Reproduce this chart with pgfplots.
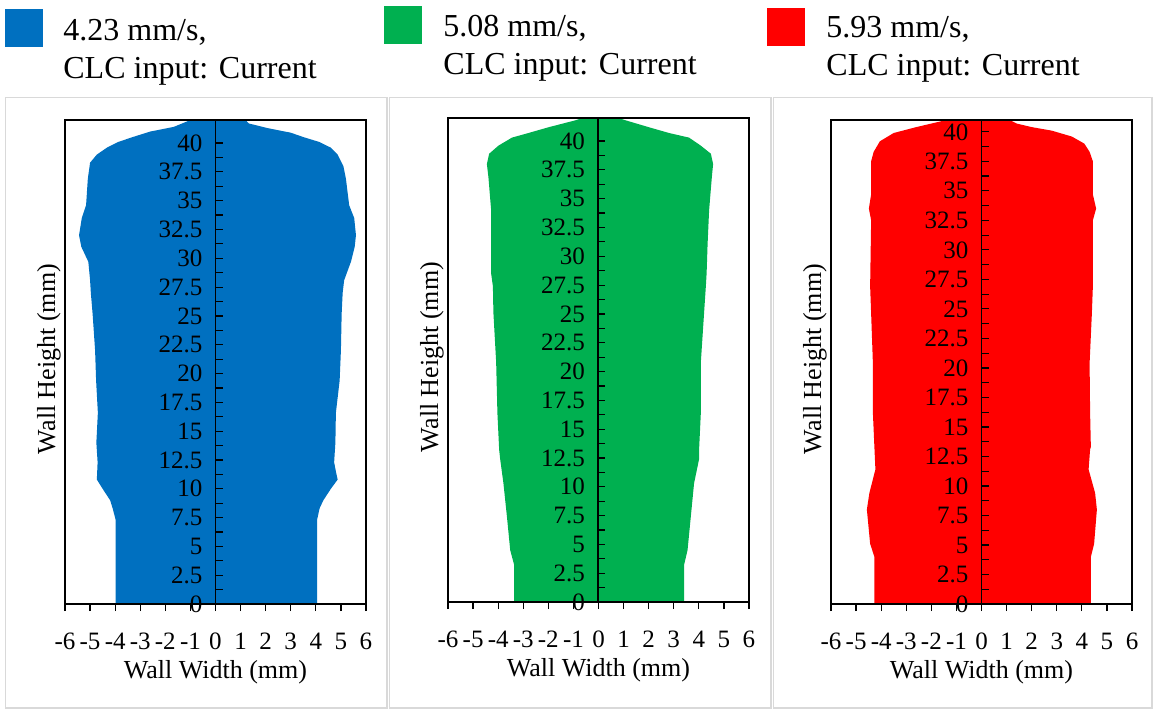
\documentclass[border=0pt]{standalone}
\usepackage{fontspec}
\setmainfont{Liberation Serif}
\usepackage{pgfplots}
\pgfplotsset{compat=1.18}

\definecolor{wallblue}{HTML}{0070C0}
\definecolor{wallgreen}{HTML}{00B050}
\definecolor{wallred}{HTML}{FF0000}
\definecolor{framegray}{HTML}{D9D9D9}

\pgfplotsset{
  % the framed plot area with the bottom x axis and the data
  wallbox/.style={
    scale only axis, width=150.5pt, height=242pt,
    xmin=-6, xmax=6, ymin=0, ymax=42,
    axis line style={black, line width=0.75pt},
    xtick={-6,-5,-4,-3,-2,-1,0,1,2,3,4,5,6},
    xticklabels={-6,-5,-4,-3,-2,-1,0,1,2,3,4,5,6},
    xtick pos=bottom, xtick align=outside,
    ytick=\empty,
    major tick length=3.5pt,
    every tick/.style={black, line width=0.6pt},
    xticklabel style={font=\fontsize{12.5}{14}\selectfont, yshift=-7.5pt},
    every axis x label/.style={at={(rel axis cs:0.5,0)}, yshift=-34pt, anchor=center,
      font=\fontsize{13}{15}\selectfont},
    every axis y label/.style={at={(rel axis cs:0,0.5)}, xshift=-8pt, yshift=1.5pt,
      rotate=90, anchor=center, font=\fontsize{13}{15}\selectfont},
    xlabel={Wall Width (mm)}, ylabel={Wall Height (mm)},
    axis on top,
  },
  % the y axis standing at x = 0
  wallyaxis/.style={
    scale only axis, width=75.25pt, height=242pt,
    xmin=0, xmax=6, ymin=0, ymax=42,
    axis x line=none, axis y line=left,
    axis line style={-, black, line width=0.9pt},
    xtick=\empty,
    ytick={0,2.5,5,7.5,10,12.5,15,17.5,20,22.5,25,27.5,30,32.5,35,37.5,40},
    yticklabels={0,2.5,5,7.5,10,12.5,15,17.5,20,22.5,25,27.5,30,32.5,35,37.5,40},
    minor y tick num=1, ytick align=inside,
    major tick length=3.5pt, minor tick length=3.5pt,
    every tick/.style={black, line width=0.6pt},
    yticklabel style={font=\fontsize{12.5}{14}\selectfont, xshift=-3pt},
  }
}

\begin{document}
\begin{tikzpicture}

% frames and legend, in pixel units of the reference
\begin{scope}[x=0.5pt, y=-0.5pt]
  \path (0,0) rectangle (1156,709);
  \draw[framegray, line width=0.75pt] (5.5,97.5) rectangle (387,708);
  \draw[framegray, line width=0.75pt] (389.5,97.5) rectangle (771,708);
  \draw[framegray, line width=0.75pt] (773.5,97.5) rectangle (1152,708);

  \fill[wallblue] (5,9) rectangle (43,47);
  \node[anchor=base west, inner sep=0, font=\fontsize{16}{19}\selectfont] at (63,40) {4.23 mm/s,};
  \node[anchor=base west, inner sep=0, font=\fontsize{16}{19}\selectfont] at (63,78) {CLC input: Current};

  \fill[wallgreen] (384,6) rectangle (422,44);
  \node[anchor=base west, inner sep=0, font=\fontsize{16}{19}\selectfont] at (443,36) {5.08 mm/s,};
  \node[anchor=base west, inner sep=0, font=\fontsize{16}{19}\selectfont] at (443,74) {CLC input: Current};

  \fill[wallred] (767,8) rectangle (805,46);
  \node[anchor=base west, inner sep=0, font=\fontsize{16}{19}\selectfont] at (826,37) {5.93 mm/s,};
  \node[anchor=base west, inner sep=0, font=\fontsize{16}{19}\selectfont] at (826,75) {CLC input: Current};
\end{scope}

% 4.23 mm/s
\begin{axis}[wallbox, at={(32.5pt,-302pt)}, anchor=south west]
\addplot[fill=wallblue, draw=none] coordinates {
  (4.05,0) (4.05,7.3) (4.15,8.3) (4.3,9.0) (4.6,10.0) (4.87,10.8) (4.8,11.5)
  (4.73,12.3) (4.78,14) (4.8,16.6) (4.95,19.4) (5.0,22) (5.03,25.2) (5.07,27)
  (5.13,28.1) (5.4,29.7) (5.55,31) (5.6,32) (5.53,33.5) (5.33,34.6) (5.2,36.9)
  (5.1,38.0) (4.87,39.0) (4.6,39.6) (4.13,40.1) (3.53,40.5) (3.0,40.9)
  (2.07,41.3) (1.33,41.7) (1.2,42.0) (1.0,42.6)
  (-1.0,42.6) (-1.0,42.0) (-1.33,41.7) (-1.67,41.4) (-2.6,41.0) (-3.33,40.5)
  (-3.87,40.1) (-4.33,39.6) (-4.73,39.0) (-5.0,38.3) (-5.09,36.9) (-5.16,34.6)
  (-5.33,33.5) (-5.44,32) (-5.35,31) (-5.07,29.7) (-5.0,28.1) (-4.97,27)
  (-4.9,25.2) (-4.8,22) (-4.76,19.4) (-4.69,16.6) (-4.75,14) (-4.7,12.3)
  (-4.73,10.8) (-4.5,10) (-4.2,9) (-4.1,8.3) (-3.98,7.3) (-3.98,0)
};
\end{axis}
\begin{axis}[wallyaxis, at={(107.75pt,-302pt)}, anchor=south west]
\end{axis}

% 5.08 mm/s
\begin{axis}[wallbox, at={(224pt,-301pt)}, anchor=south west]
\addplot[fill=wallgreen, draw=none] coordinates {
  (3.41,0) (3.41,3.2) (3.55,4.5) (3.68,7.4) (3.81,10.3) (4.01,12.4) (4.01,13.2)
  (4.08,16.4) (4.08,20.8) (4.21,25.1) (4.28,27.4) (4.31,28.5) (4.35,31.1)
  (4.41,34.0) (4.52,36.9) (4.57,38.0) (4.48,38.9) (4.08,39.6) (3.61,40.3)
  (2.81,40.7) (2.01,41.2) (1.08,41.8) (0.81,42.0) (0.7,42.6)
  (-0.6,42.6) (-0.65,42.0) (-0.92,41.8) (-1.99,41.2) (-2.79,40.7) (-3.45,40.3)
  (-3.99,39.6) (-4.36,38.9) (-4.45,38.0) (-4.39,36.9) (-4.28,34.0) (-4.28,31.1)
  (-4.28,28.5) (-4.21,27.4) (-4.19,25.1) (-4.08,20.8) (-4.03,16.4) (-3.96,13.2)
  (-3.92,12.4) (-3.79,10.3) (-3.65,7.4) (-3.52,4.5) (-3.36,3.2) (-3.36,0)
};
\end{axis}
\begin{axis}[wallyaxis, at={(299pt,-301pt)}, anchor=south west]
\end{axis}

% 5.93 mm/s
\begin{axis}[wallbox, ymax=41, at={(415.5pt,-302pt)}, anchor=south west]
\addplot[fill=wallred, draw=none] coordinates {
  (4.36,0) (4.36,4.0) (4.49,5.1) (4.6,8.0) (4.53,9.4) (4.27,11.4) (4.33,13.1)
  (4.36,13.3) (4.33,16.2) (4.31,20.4) (4.4,24.6) (4.44,26.9) (4.44,32.5)
  (4.57,33.5) (4.44,34.7) (4.44,37.5) (4.31,38.3) (4.1,39.0) (3.6,39.6)
  (2.8,40.1) (2.0,40.4) (1.4,40.7) (1.13,41.0) (1.1,41.5)
  (-1.4,41.5) (-1.4,41.0) (-2.0,40.7) (-2.6,40.4) (-3.5,39.9) (-4.05,39.2)
  (-4.3,38.3) (-4.4,37.5) (-4.4,34.7) (-4.49,33.5) (-4.4,32.5) (-4.44,26.9)
  (-4.4,24.6) (-4.33,20.4) (-4.33,16.2) (-4.27,13.3) (-4.23,11.4) (-4.47,9.4)
  (-4.57,8.0) (-4.44,5.1) (-4.27,4.0) (-4.27,0)
};
\end{axis}
\begin{axis}[wallyaxis, ymax=41, at={(490.75pt,-302pt)}, anchor=south west]
\end{axis}

\end{tikzpicture}
\end{document}
